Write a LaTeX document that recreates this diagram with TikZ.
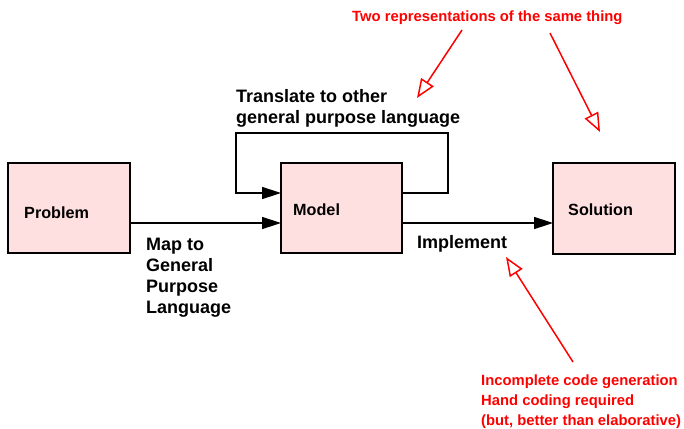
\documentclass[tikz,border=0pt]{standalone}
\usepackage{fontspec}
\setmainfont{Liberation Sans}
\usetikzlibrary{arrows.meta}
\definecolor{boxfill}{RGB}{255,224,224}
\definecolor{notered}{RGB}{255,0,0}
\tikzset{
  x=1pt, y=-1pt,
  stage/.style={draw=black, line width=1.5pt, fill=boxfill},
  flow/.style={line width=1.5pt, -{Triangle[length=19pt,width=12pt]}},
  note/.style={draw=notered, line width=1.5pt, -{Triangle[open,length=19pt,width=15pt,fill=white]}},
  boxlbl/.style={font=\fontsize{16.2}{20}\selectfont\bfseries, inner sep=0pt, anchor=base west},
  lbl/.style={font=\fontsize{18}{21}\selectfont\bfseries, inner sep=0pt, anchor=base west, align=left},
  rlbl/.style={font=\fontsize{14.8}{20}\selectfont\bfseries, text=notered, inner sep=0pt, anchor=base west, align=left},
}
\begin{document}
\begin{tikzpicture}
\useasboundingbox (0,0) rectangle (684,428);
% the three stages
\draw[stage] (8,163) rectangle (130,253);
\draw[stage] (281,163) rectangle (402,253);
\draw[stage] (553,163) rectangle (675,254);
\coordinate (pR) at (130,223);
\coordinate (mL) at (281,223);
\coordinate (mL2) at (281,193);
\coordinate (mR2) at (402,193);
\coordinate (mR) at (402,223);
\coordinate (sL) at (553,223);
\node[boxlbl] (prob) at (24,218) {Problem};
\node[boxlbl] (model) at (293,215) {Model};
\node[boxlbl] (sol) at (568,215) {Solution};
% connectors
\draw[flow] (pR) -- (mL);
\draw[flow] (mR) -- (sL);
\draw[flow] (mR2) -- (448,193) -- (448,133) -- (236,133) -- (236,193) -- (mL2);
% labels on the connectors (anchored at the baseline of the last line)
\node[lbl] (trans) at (236,123) {Translate to other\\general purpose language};
\node[lbl] (map) at (146,313) {Map to\\General\\Purpose\\Language};
\node[lbl] (impl) at (417,248) {Implement};
% red annotations
\node[rlbl] (two) at (352,22) {Two representations of the same thing};
\node[rlbl] (inc) at (481,425) {Incomplete code generation\\Hand coding required\\(but, better than elaborative)};
\coordinate (t1) at (462,30);
\coordinate (h1) at (417,98);
\coordinate (t2) at (550,33);
\coordinate (h2) at (600,132);
\coordinate (t3) at (573,362);
\coordinate (h3) at (506,257);
\draw[note] (t1) -- (h1);
\draw[note] (t2) -- (h2);
\draw[note] (t3) -- (h3);
\end{tikzpicture}
\end{document}
